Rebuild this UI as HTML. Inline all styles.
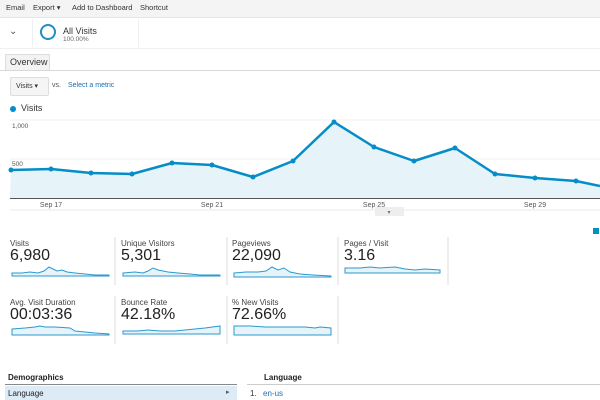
<!DOCTYPE html>
<html><head><style>
body{margin:0;width:600px;height:400px;overflow:hidden;background:#fff;font-family:"Liberation Sans",Arial,sans-serif;position:relative}
.a{position:absolute;white-space:nowrap}
</style></head><body>
<div class="a" style="left:0;top:0;width:600px;height:17px;background:#f4f4f4;border-bottom:1px solid #e6e6e6"></div>
<div class="a" style="left:6px;top:3px;font-size:7.5px;color:#333">Email</div>
<div class="a" style="left:33px;top:3px;font-size:7.5px;color:#333">Export ▾</div>
<div class="a" style="left:72px;top:3px;font-size:7.5px;color:#333">Add to Dashboard</div>
<div class="a" style="left:140px;top:3px;font-size:7.5px;color:#333">Shortcut</div>
<div class="a" style="left:0;top:22px;width:600px;height:26px;border-bottom:1px solid #f0f0f0"></div>
<div class="a" style="left:32px;top:19px;width:1px;height:28px;background:#f0f0f0"></div>
<div class="a" style="left:138px;top:19px;width:1px;height:28px;background:#f0f0f0"></div>
<div class="a" style="left:9px;top:26px;font-size:10px;color:#555">⌄</div>
<div class="a" style="left:40px;top:24px;width:12px;height:12px;border:2.5px solid #1c8fc4;border-radius:50%"></div>
<div class="a" style="left:63px;top:26px;font-size:9px;color:#333">All Visits</div>
<div class="a" style="left:63px;top:36px;font-size:6.5px;color:#666">100.00%</div>
<div class="a" style="left:5px;top:54px;width:43px;height:16px;background:#f3f3f3;border:1px solid #ddd;border-bottom:none"></div>
<div class="a" style="left:10px;top:57px;font-size:9px;color:#333">Overview</div>
<div class="a" style="left:0;top:70px;width:600px;height:1px;background:#d8d8d8"></div>
<div class="a" style="left:10px;top:77px;width:37px;height:17px;background:#f5f5f5;border:1px solid #ddd;border-radius:2px"></div>
<div class="a" style="left:16px;top:82px;font-size:7px;color:#333">Visits ▾</div>
<div class="a" style="left:52px;top:82px;font-size:7px;color:#555">vs.</div>
<div class="a" style="left:68px;top:82px;font-size:7px;color:#1a6db5">Select a metric</div>
<div class="a" style="left:10px;top:106px;width:6px;height:6px;border-radius:50%;background:#058dc7"></div>
<div class="a" style="left:21px;top:103px;font-size:9px;color:#333">Visits</div>
<svg class="a" style="left:0;top:0" width="600" height="400">
<line x1="10" y1="120" x2="600" y2="120" stroke="#f0f0f0"/>
<line x1="10" y1="159" x2="600" y2="159" stroke="#f0f0f0"/>
<polygon fill="#e6f3f9" points="10,198 11,170 51,169 91,173 132,174 172,163 212,165 253,177 293,161 334,122 374,147 414,161 455,148 495,174 535,178 576,181 600,186 600,198"/>
<polyline fill="none" stroke="#058dc7" stroke-width="2.5" stroke-linejoin="round" points="11,170 51,169 91,173 132,174 172,163 212,165 253,177 293,161 334,122 374,147 414,161 455,148 495,174 535,178 576,181 600,186"/>
<g fill="#058dc7"><circle cx="11" cy="170" r="2.5"/><circle cx="51" cy="169" r="2.5"/><circle cx="91" cy="173" r="2.5"/><circle cx="132" cy="174" r="2.5"/><circle cx="172" cy="163" r="2.5"/><circle cx="212" cy="165" r="2.5"/><circle cx="253" cy="177" r="2.5"/><circle cx="293" cy="161" r="2.5"/><circle cx="334" cy="122" r="2.5"/><circle cx="374" cy="147" r="2.5"/><circle cx="414" cy="161" r="2.5"/><circle cx="455" cy="148" r="2.5"/><circle cx="495" cy="174" r="2.5"/><circle cx="535" cy="178" r="2.5"/><circle cx="576" cy="181" r="2.5"/></g>
<line x1="10" y1="198.5" x2="600" y2="198.5" stroke="#555"/>
<line x1="10" y1="210" x2="600" y2="210" stroke="#e8e8e8"/>
<rect x="375" y="207" width="29" height="9" fill="#eee"/>
<text x="389" y="214" font-size="6" fill="#777" text-anchor="middle">▾</text>
<rect x="593" y="228" width="6" height="6" fill="#058dc7"/>
<g font-size="7" fill="#555" font-family="Liberation Sans" text-anchor="middle"><text x="51" y="207">Sep 17</text><text x="212" y="207">Sep 21</text><text x="374" y="207">Sep 25</text><text x="535" y="207">Sep 29</text></g>
<g font-size="6.5" fill="#555" font-family="Liberation Sans"><text x="12" y="128">1,000</text><text x="12" y="166">500</text></g>
<g stroke="#ddd"><line x1="115" y1="237" x2="115" y2="285"/><line x1="227" y1="237" x2="227" y2="285"/><line x1="338" y1="237" x2="338" y2="285"/><line x1="448" y1="237" x2="448" y2="285"/><line x1="115" y1="296" x2="115" y2="344"/><line x1="227" y1="296" x2="227" y2="344"/><line x1="338" y1="296" x2="338" y2="344"/></g>
<g fill="#e6f3f9" stroke="#2a9ad0" stroke-width="1">
<path d="M12,273 L22,273 30,272 38,273 44,271 49,267 53,269 57,271 62,270 67,272 75,273 85,274 95,275 109,275 L109,276 12,276Z"/>
<path d="M123,273 L135,272 143,273 148,271 153,268 158,270 163,271 168,272 178,273 190,274 200,275 220,275 L220,276 123,276Z"/>
<path d="M234,273 L246,272 258,272 266,271 272,267 278,270 284,268 290,272 300,274 313,275 331,276 L331,277 234,277Z"/>
<path d="M345,268 L360,268 370,267 380,268 395,267 405,269 415,270 425,269 440,270 L440,273 345,273Z"/>
<path d="M12,329 L25,328 35,327 40,326 45,327 55,327 70,328 75,331 85,332 95,333 109,334 L109,335 12,335Z"/>
<path d="M123,331 L138,331 148,330 160,331 175,331 185,330 195,329 205,328 220,326 L220,334 123,334Z"/>
<path d="M234,326 L250,326 265,327 285,327 305,327 315,328 320,327 331,328 L331,335 234,335Z"/>
</g>
</svg>
<div class="a" style="left:10px;top:239px;font-size:8px;color:#444">Visits</div>
<div class="a" style="left:10px;top:247px;font-size:16px;color:#222">6,980</div>
<div class="a" style="left:121px;top:239px;font-size:8px;color:#444">Unique Visitors</div>
<div class="a" style="left:121px;top:247px;font-size:16px;color:#222">5,301</div>
<div class="a" style="left:232px;top:239px;font-size:8px;color:#444">Pageviews</div>
<div class="a" style="left:232px;top:247px;font-size:16px;color:#222">22,090</div>
<div class="a" style="left:344px;top:239px;font-size:8px;color:#444">Pages / Visit</div>
<div class="a" style="left:344px;top:247px;font-size:16px;color:#222">3.16</div>
<div class="a" style="left:10px;top:298px;font-size:8px;color:#444">Avg. Visit Duration</div>
<div class="a" style="left:10px;top:306px;font-size:16px;color:#222">00:03:36</div>
<div class="a" style="left:121px;top:298px;font-size:8px;color:#444">Bounce Rate</div>
<div class="a" style="left:121px;top:306px;font-size:16px;color:#222">42.18%</div>
<div class="a" style="left:232px;top:298px;font-size:8px;color:#444">% New Visits</div>
<div class="a" style="left:232px;top:306px;font-size:16px;color:#222">72.66%</div>
<div class="a" style="left:8px;top:373px;font-size:8px;font-weight:bold;color:#222">Demographics</div>
<div class="a" style="left:5px;top:384px;width:232px;height:1px;background:#888"></div>
<div class="a" style="left:5px;top:386px;width:232px;height:14px;background:#dcebf6"></div>
<div class="a" style="left:8px;top:389px;font-size:8px;color:#222">Language</div>
<div class="a" style="left:226px;top:388px;font-size:7px;color:#555">▸</div>
<div class="a" style="left:264px;top:373px;font-size:8px;font-weight:bold;color:#222">Language</div>
<div class="a" style="left:247px;top:384px;width:353px;height:1px;background:#ccc"></div>
<div class="a" style="left:250px;top:389px;font-size:8px;color:#333">1.</div>
<div class="a" style="left:263px;top:389px;font-size:8px;color:#1a6db5">en-us</div>
</body></html>
